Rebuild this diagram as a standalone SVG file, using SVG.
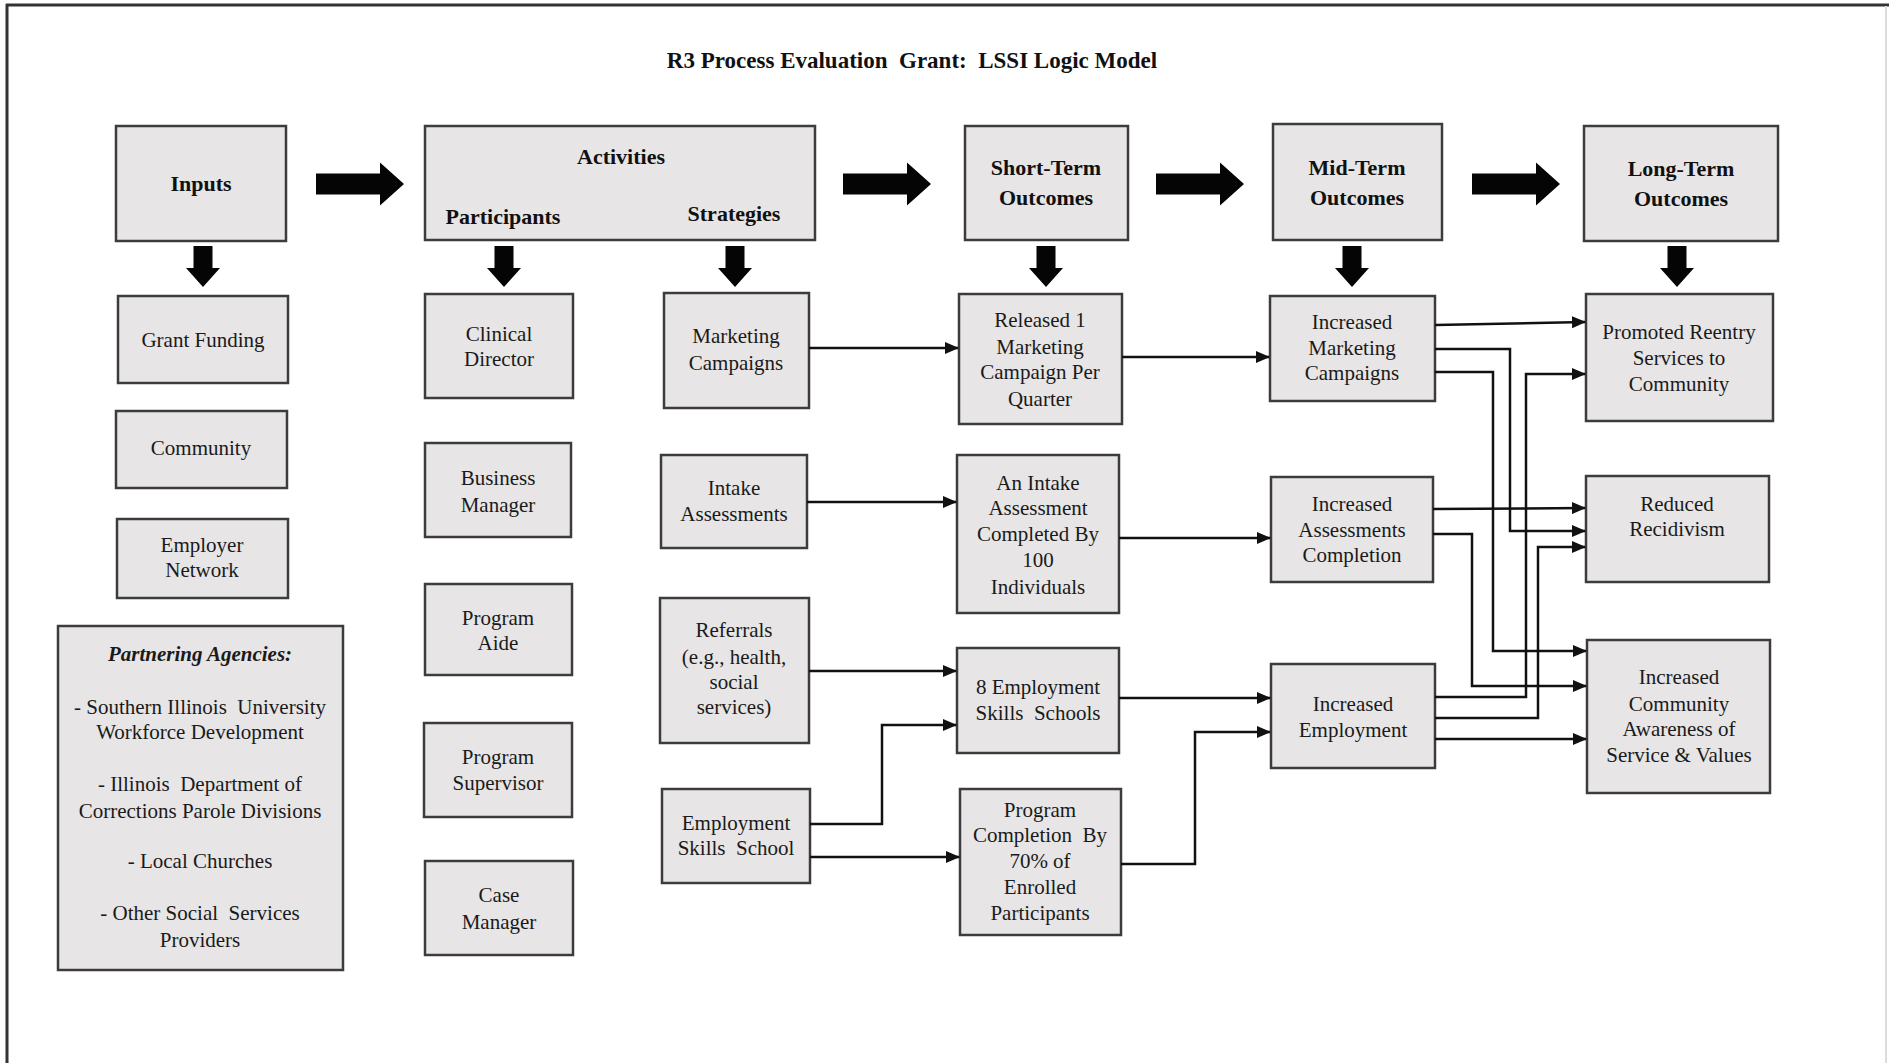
<svg xmlns="http://www.w3.org/2000/svg" width="1889" height="1063" viewBox="0 0 1889 1063">
  <style>
    .box { fill: #e7e5e5; stroke: #3c3c3c; stroke-width: 2.5; }
    .t { font-family: "Liberation Serif", "Times New Roman", serif; font-size: 21px; fill: #1a1a1a; text-anchor: middle; white-space: pre; }
    .h { font-family: "Liberation Serif", "Times New Roman", serif; font-size: 22px; font-weight: bold; fill: #111; text-anchor: middle; }
    .title { font-family: "Liberation Serif", "Times New Roman", serif; font-size: 23px; font-weight: bold; fill: #111; text-anchor: middle; white-space: pre; }
    .pa { font-style: italic; font-weight: bold; }
    .wire { fill: none; stroke: #111; stroke-width: 2.5; marker-end: url(#tip); }
    .big { fill: #050505; }
  </style>
  <defs>
    <marker id="tip" markerUnits="userSpaceOnUse" markerWidth="14" markerHeight="12" refX="13" refY="6" orient="auto">
      <path d="M0,0 L14,6 L0,12 Z" fill="#111"/>
    </marker>
    <path id="blockRight" d="M0,-10.5 H64 V-21.5 L88,0 L64,21.5 V10.5 H0 Z"/>
    <path id="blockDown" d="M-9.5,0 V22 H-17 L0,41 L17,22 H9.5 V0 Z"/>
  </defs>

  <!-- page frame -->
  <g id="frame">
    <rect x="0" y="0" width="1889" height="1063" fill="#ffffff"/>
    <line x1="6" y1="5" x2="1889" y2="5" stroke="#333" stroke-width="3"/>
    <line x1="7" y1="4" x2="7" y2="1063" stroke="#333" stroke-width="3"/>
    <line x1="1886" y1="6" x2="1886" y2="1063" stroke="#dcdcdc" stroke-width="2"/>
  </g>

  <text class="title" x="912" y="68">R3 Process Evaluation  Grant:  LSSI Logic Model</text>

  <!-- stage headers -->
  <g id="inputs"><rect class="box" x="116" y="126" width="170" height="115"/><text class="h" x="201" y="191">Inputs</text></g>
  <g id="activities"><rect class="box" x="425" y="126" width="390" height="114"/>
    <text class="h" x="621" y="164">Activities</text>
    <text class="h" x="503" y="224">Participants</text>
    <text class="h" x="734" y="221">Strategies</text></g>
  <g id="short-term"><rect class="box" x="965" y="126" width="163" height="114"/>
    <text class="h" x="1046" y="175">Short-Term</text><text class="h" x="1046" y="205">Outcomes</text></g>
  <g id="mid-term"><rect class="box" x="1273" y="124" width="169" height="116"/>
    <text class="h" x="1357" y="175">Mid-Term</text><text class="h" x="1357" y="205">Outcomes</text></g>
  <g id="long-term"><rect class="box" x="1584" y="126" width="194" height="115"/>
    <text class="h" x="1681" y="176">Long-Term</text><text class="h" x="1681" y="206">Outcomes</text></g>

  <!-- block arrows between stages and into columns -->
  <g id="block-arrows" class="big">
    <use href="#blockRight" x="316" y="184"/>
    <use href="#blockRight" x="843" y="184"/>
    <use href="#blockRight" x="1156" y="184"/>
    <use href="#blockRight" x="1472" y="184"/>
    <use href="#blockDown" x="203" y="246"/>
    <use href="#blockDown" x="504" y="246"/>
    <use href="#blockDown" x="735" y="246"/>
    <use href="#blockDown" x="1046" y="246"/>
    <use href="#blockDown" x="1352" y="246"/>
    <use href="#blockDown" x="1677" y="246"/>
  </g>

  <!-- inputs column -->
  <g id="grant-funding"><rect class="box" x="118" y="296" width="170" height="87"/><text class="t" x="203" y="347">Grant Funding</text></g>
  <g id="community"><rect class="box" x="116" y="411" width="171" height="77"/><text class="t" x="201" y="455">Community</text></g>
  <g id="employer-network"><rect class="box" x="117" y="519" width="171" height="79"/>
    <text class="t" x="202" y="552">Employer</text><text class="t" x="202" y="577">Network</text></g>
  <g id="partnering-agencies"><rect class="box" x="58" y="626" width="285" height="344"/>
    <text class="t pa" x="200" y="661">Partnering Agencies:</text>
    <text class="t" x="200" y="714">- Southern Illinois  University</text>
    <text class="t" x="200" y="739">Workforce Development</text>
    <text class="t" x="200" y="791">- Illinois  Department of</text>
    <text class="t" x="200" y="818">Corrections Parole Divisions</text>
    <text class="t" x="200" y="868">- Local Churches</text>
    <text class="t" x="200" y="920">- Other Social  Services</text>
    <text class="t" x="200" y="947">Providers</text></g>

  <!-- participants -->
  <g id="clinical-director"><rect class="box" x="425" y="294" width="148" height="104"/>
    <text class="t" x="499" y="341">Clinical</text><text class="t" x="499" y="366">Director</text></g>
  <g id="business-manager"><rect class="box" x="425" y="443" width="146" height="94"/>
    <text class="t" x="498" y="485">Business</text><text class="t" x="498" y="512">Manager</text></g>
  <g id="program-aide"><rect class="box" x="425" y="584" width="147" height="91"/>
    <text class="t" x="498" y="625">Program</text><text class="t" x="498" y="650">Aide</text></g>
  <g id="program-supervisor"><rect class="box" x="424" y="723" width="148" height="94"/>
    <text class="t" x="498" y="764">Program</text><text class="t" x="498" y="790">Supervisor</text></g>
  <g id="case-manager"><rect class="box" x="425" y="861" width="148" height="94"/>
    <text class="t" x="499" y="902">Case</text><text class="t" x="499" y="929">Manager</text></g>

  <!-- strategies -->
  <g id="marketing-campaigns"><rect class="box" x="664" y="293" width="145" height="115"/>
    <text class="t" x="736" y="343">Marketing</text><text class="t" x="736" y="370">Campaigns</text></g>
  <g id="intake-assessments"><rect class="box" x="661" y="455" width="146" height="93"/>
    <text class="t" x="734" y="495">Intake</text><text class="t" x="734" y="521">Assessments</text></g>
  <g id="referrals"><rect class="box" x="660" y="598" width="149" height="145"/>
    <text class="t" x="734" y="637">Referrals</text><text class="t" x="734" y="664">(e.g., health,</text>
    <text class="t" x="734" y="689">social</text><text class="t" x="734" y="714">services)</text></g>
  <g id="employment-skills-school"><rect class="box" x="662" y="789" width="148" height="94"/>
    <text class="t" x="736" y="830">Employment</text><text class="t" x="736" y="855">Skills  School</text></g>

  <!-- short-term outcomes -->
  <g id="released-campaign"><rect class="box" x="959" y="294" width="163" height="130"/>
    <text class="t" x="1040" y="327">Released 1</text><text class="t" x="1040" y="354">Marketing</text>
    <text class="t" x="1040" y="379">Campaign Per</text><text class="t" x="1040" y="406">Quarter</text></g>
  <g id="intake-completed"><rect class="box" x="957" y="455" width="162" height="158"/>
    <text class="t" x="1038" y="490">An Intake</text><text class="t" x="1038" y="515">Assessment</text>
    <text class="t" x="1038" y="541">Completed By</text><text class="t" x="1038" y="567">100</text>
    <text class="t" x="1038" y="594">Individuals</text></g>
  <g id="employment-schools"><rect class="box" x="957" y="648" width="162" height="105"/>
    <text class="t" x="1038" y="694">8 Employment</text><text class="t" x="1038" y="720">Skills  Schools</text></g>
  <g id="program-completion"><rect class="box" x="960" y="789" width="161" height="146"/>
    <text class="t" x="1040" y="817">Program</text><text class="t" x="1040" y="842">Completion  By</text>
    <text class="t" x="1040" y="868">70% of</text><text class="t" x="1040" y="894">Enrolled</text>
    <text class="t" x="1040" y="920">Participants</text></g>

  <!-- mid-term outcomes -->
  <g id="increased-marketing"><rect class="box" x="1270" y="296" width="165" height="105"/>
    <text class="t" x="1352" y="329">Increased</text><text class="t" x="1352" y="355">Marketing</text>
    <text class="t" x="1352" y="380">Campaigns</text></g>
  <g id="increased-assessments"><rect class="box" x="1271" y="477" width="162" height="105"/>
    <text class="t" x="1352" y="511">Increased</text><text class="t" x="1352" y="537">Assessments</text>
    <text class="t" x="1352" y="562">Completion</text></g>
  <g id="increased-employment"><rect class="box" x="1271" y="664" width="164" height="104"/>
    <text class="t" x="1353" y="711">Increased</text><text class="t" x="1353" y="737">Employment</text></g>

  <!-- long-term outcomes -->
  <g id="promoted-reentry"><rect class="box" x="1586" y="294" width="187" height="127"/>
    <text class="t" x="1679" y="339">Promoted Reentry</text><text class="t" x="1679" y="365">Services to</text>
    <text class="t" x="1679" y="391">Community</text></g>
  <g id="reduced-recidivism"><rect class="box" x="1586" y="476" width="183" height="106"/>
    <text class="t" x="1677" y="511">Reduced</text><text class="t" x="1677" y="536">Recidivism</text></g>
  <g id="community-awareness"><rect class="box" x="1587" y="640" width="183" height="153"/>
    <text class="t" x="1679" y="684">Increased</text><text class="t" x="1679" y="711">Community</text>
    <text class="t" x="1679" y="736">Awareness of</text><text class="t" x="1679" y="762">Service &amp; Values</text></g>

  <!-- connectors -->
  <g id="connectors">
    <path class="wire" d="M809,348 H958"/>
    <path class="wire" d="M1122,357 H1269"/>
    <path class="wire" d="M807,502 H956"/>
    <path class="wire" d="M1119,538 H1270"/>
    <path class="wire" d="M809,671 H956"/>
    <path class="wire" d="M810,824 H882 V725 H956"/>
    <path class="wire" d="M810,857 H959"/>
    <path class="wire" d="M1119,698 H1270"/>
    <path class="wire" d="M1121,864 H1195 V732 H1270"/>
    <path class="wire" d="M1435,325 L1585,322"/>
    <path class="wire" d="M1435,349 H1510 V531 H1585"/>
    <path class="wire" d="M1435,372 H1493 V651 H1586"/>
    <path class="wire" d="M1433,509 L1585,508"/>
    <path class="wire" d="M1433,534 H1472 V686 H1586"/>
    <path class="wire" d="M1435,697 H1526 V374 H1585"/>
    <path class="wire" d="M1435,718 H1538 V547 H1585"/>
    <path class="wire" d="M1435,739 H1586"/>
  </g>
</svg>
